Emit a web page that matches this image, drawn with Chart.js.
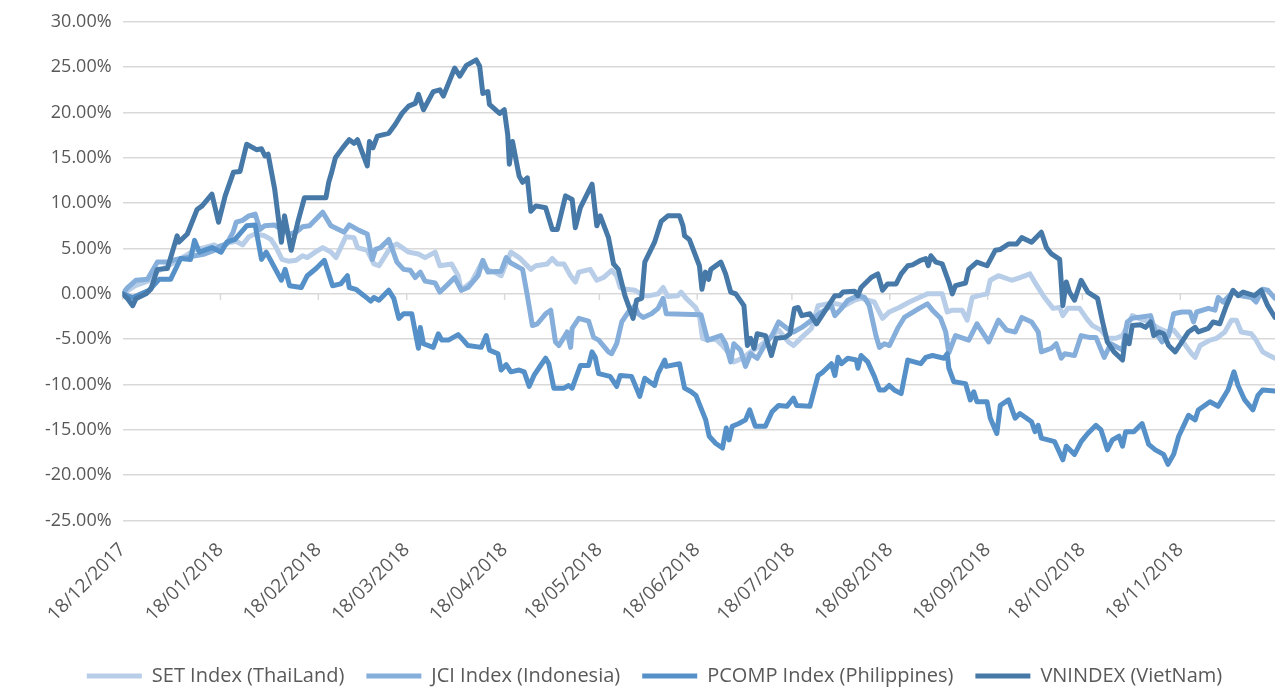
<!DOCTYPE html>
<html>
<head>
<meta charset="utf-8">
<script src="https://cdn.jsdelivr.net/npm/chart.js@4.4.1/dist/chart.umd.min.js"></script>
<style>
  html, body { margin: 0; padding: 0; background: #fff; }
</style>
</head>
<body>
<canvas id="grafica" width="1282" height="691"></canvas>
<script>
// días desde el 18/12/2017
const tickDays = [0, 31, 62, 90, 121, 151, 182, 212, 243, 274, 304, 335];
const tickLabels = ['18/12/2017', '18/01/2018', '18/02/2018', '18/03/2018', '18/04/2018', '18/05/2018',
  '18/06/2018', '18/07/2018', '18/08/2018', '18/09/2018', '18/10/2018', '18/11/2018'];

const seriesNames = ['SET Index (ThaiLand)', 'JCI Index (Indonesia)', 'PCOMP Index (Philippines)', 'VNINDEX (VietNam)'];

const setDays = [0, 4, 8, 11, 14, 17, 20, 23, 26, 29, 31, 33, 36, 38, 40, 42, 45, 47, 48.5, 50.5, 52.5, 55, 57, 58.5,
  61, 63.4, 66, 67.6, 70.7, 73.3, 74.4, 77.5, 79.6, 81.2, 84.8, 86.9, 90.6, 93.7, 95.8, 99, 100.5, 104.2, 106.3, 107.3,
  110.5, 113.6, 115.7, 117.8, 119.9, 121.4, 123, 125.6, 129.3, 130.9, 134.5, 136.1, 137.7, 139.8, 141.9, 143.4, 144.5,
  148.1, 150.2, 152.3, 154.9, 156.5, 157.6, 159.6, 162.3, 164.9, 167, 169.6, 171.2, 172.7, 175.9, 176.9, 178.5, 181.5,
  182.7, 183.7, 185.3, 187.9, 190, 192.1, 193.6, 196.3, 198.9, 202, 205.1, 207.8, 210.9, 212.5, 215.1, 218.2, 220.3,
  223.5, 226.1, 228.7, 231.8, 233.9, 238.1, 240.7, 242.8, 246, 249.2, 252.3, 254.9, 259.6, 261.2, 262.8, 265.9, 267.5,
  269.1, 271.2, 273.8, 274.8, 277.4, 281.6, 284.2, 287.4, 288.9, 291.6, 294.7, 296.8, 297.8, 299.4, 303.1, 305.7, 307.2,
  309.9, 311.9, 314.6, 316.7, 319.8, 321.9, 325, 328.2, 330.8, 332.9, 335, 337.1, 338.6, 339.7, 341.3, 344.4, 346.5,
  349.1, 351.2, 352.8, 354.3, 357.5, 359, 361.1, 363.2, 365];
const setValues = [0, 0.9, 1.4, 2.5, 3.0, 3.6, 4.2, 4.9, 5.1, 5.4, 5.0, 5.6, 5.8, 5.4, 6.3, 6.6, 6.4, 6.0, 5.2, 3.8, 3.6, 3.7, 4.2, 4.0,
  4.6, 5.1, 4.6, 4.0, 6.3, 6.2, 5.1, 4.8, 3.3, 3.1, 5.1, 5.5, 4.6, 4.4, 4.0, 4.6, 3.1, 3.3, 2.0, 0.4,
  1.3, 3.3, 2.6, 2.4, 2.0, 3.3, 4.6, 4.0, 2.7, 3.1, 3.3, 3.9, 3.3, 3.3, 2.0, 1.3, 2.4,
  2.7, 1.5, 1.8, 2.6, 2.0, 0.7, 0.5, 0.4, -0.2, -0.2, 0, 0.7, -0.3, -0.2, 0.2, -0.5, -1.5,
  -2.4, -4.9, -5.1, -5.0, -5.7, -6.6, -7.5, -7.1, -6.4, -5.7, -4.8, -4.0, -5.3, -5.7, -4.8, -3.8, -1.3,
  -1.1, -1.1, -1.3, -0.7, -0.5, -0.9, -2.7, -2.0, -1.5, -0.9, -0.4, 0, 0, -2.0, -1.8, -1.8, -2.9,
  -0.4, -0.2, 0, 1.5, 2.0, 1.5, 1.8, 2.2, 1.3, -0.2, -1.6, -1.5, -2.4, -1.6, -1.6, -2.9, -3.5,
  -4.0, -4.9, -4.9, -4.6, -2.4, -2.7, -3.1, -3.8, -4.2, -4.0, -4.9, -5.9, -6.6, -7.0, -5.7, -5.1, -4.9,
  -4.2, -2.9, -2.9, -4.2, -4.4, -5.1, -6.4, -6.8, -7.1];

const jciDays = [0, 1.6, 4.2, 7.9, 11, 14.2, 17, 20, 23, 26, 29, 31, 33, 35, 36, 38, 40, 42, 43.5, 45, 48, 50, 53, 55, 57,
  59.2, 63.4, 66, 70.2, 71.8, 74.9, 77.5, 79.1, 80.1, 81.7, 84.3, 86.9, 89, 91.1, 92.7, 94.3, 95.8, 99, 100.5, 103.2,
  105.2, 107.3, 109.4, 112.6, 114.1, 115.7, 119.9, 121.5, 123, 126.7, 128.2, 129.8, 131.4, 134, 135.6, 137.1, 138.2,
  139.8, 140.8, 141.9, 142.4, 144.5, 147.6, 149.2, 150.8, 153.9, 154.9, 156.5, 158.1, 160.2, 162.3, 163.3, 164.9, 167.5,
  169.6, 171.2, 172.2, 183.2, 185.3, 189.5, 191, 192.6, 193.6, 195.7, 197.3, 198.9, 201, 203.6, 205.7, 207.8, 210.4,
  212.5, 215.1, 218.2, 221.4, 224.5, 225.6, 227.7, 229.7, 232.9, 235, 236.5, 238.6, 239.7, 241.3, 242.9, 245.5, 247.6,
  252.3, 254.9, 256.5, 259.1, 260.7, 261.7, 263.8, 268, 270.6, 274.3, 277.4, 280, 282.7, 284.8, 287.9, 290, 291, 294.2,
  295.7, 297.3, 298.4, 301.5, 303.6, 306.2, 308.3, 310.9, 313, 316.7, 318.2, 319.8, 325.6, 327.1, 329.2, 331.3, 332.9,
  335.5, 338.1, 339.2, 340.2, 343.9, 346, 347, 348.6, 351.7, 354.3, 357.5, 359, 361.1, 362.7, 365];
const jciValues = [0, 0.7, 1.5, 1.6, 3.5, 3.5, 3.8, 4.0, 4.2, 4.4, 4.8, 5.3, 5.5, 6.8, 7.9, 8.1, 8.6, 8.8, 7.1, 7.5, 7.6, 7.2, 6.6, 6.8, 7.4,
  7.5, 9.0, 7.5, 6.8, 7.6, 7.0, 6.6, 3.8, 4.9, 5.1, 6.0, 3.5, 2.7, 2.6, 1.8, 2.4, 1.4, 1.2, 0.2, 1.1,
  1.8, 0.4, 0.7, 2.0, 3.7, 2.4, 2.5, 4.0, 3.4, 2.7, -0.2, -3.5, -3.3, -2.2, -1.8, -5.3, -5.7,
  -4.8, -4.2, -5.9, -3.8, -2.7, -3.0, -4.8, -5.1, -6.4, -6.6, -5.5, -3.1, -2.0, -1.3, -2.2, -2.6, -2.2,
  -1.6, -0.5, -2.2, -2.3, -5.1, -4.6, -5.5, -7.5, -5.5, -6.2, -8.0, -6.6, -7.1, -5.5, -4.6, -3.1, -3.8,
  -4.2, -3.7, -2.9, -2.0, -1.3, -2.4, -1.6, -0.7, -0.2, -0.4, -1.3, -4.6, -5.9, -5.5, -5.7, -3.8, -2.6,
  -1.6, -1.1, -1.8, -2.7, -4.2, -6.5, -4.6, -5.1, -3.3, -5.3, -2.9, -4.0, -4.2, -2.6, -3.1, -4.2, -6.4, -6.0,
  -5.5, -7.1, -6.6, -6.8, -4.6, -4.8, -4.8, -7.0, -5.5, -6.2, -3.1, -2.7, -2.4, -4.2, -5.3, -4.6, -2.2,
  -2.0, -2.0, -3.1, -2.0, -1.6, -1.8, -0.4, -0.9, 0.2, -0.2, -0.4, -0.9, 0.5, 0.4, -0.5];

const pcompDays = [0, 3.2, 8.4, 11.6, 15.2, 18.4, 21.5, 22.8, 24.3, 28.3, 31.2, 33, 35.6, 39.3, 42, 44, 45.5, 50.3, 51.5,
  52.9, 56.6, 58.5, 61.3, 63.9, 66.5, 69.1, 71.2, 71.8, 73.9, 76.5, 78.6, 79.6, 81.2, 84.3, 85.9, 87.5, 89, 91.6, 92.7,
  93.7, 94.3, 95.3, 98.4, 100, 101.1, 103.2, 106.3, 107.9, 109.4, 113.6, 115.2, 116.2, 118.9, 119.9, 121.5, 123, 125.6,
  127.2, 128.8, 130.3, 132.4, 134, 135, 136.6, 139.8, 141.3, 142.4, 145, 147.6, 148.7, 149.7, 150.8, 154.4, 156.5, 157.6,
  161.2, 163.8, 165.4, 168.5, 169.6, 171.7, 172.2, 176.4, 178, 180.1, 181.6, 183.2, 184.7, 185.8, 187.9, 190, 191.2,
  192.1, 193.1, 195.2, 197.3, 198.6, 200.4, 203.6, 205.7, 207.8, 210.4, 212.5, 213.5, 217.7, 220.3, 221.9, 224.5, 225.6,
  226.6, 227.7, 229.7, 232.4, 232.9, 233.9, 236, 238.1, 239.7, 241.3, 242.8, 244.4, 246.6, 248.7, 252.8, 254.4, 256.5,
  260.2, 261.2, 261.7, 263.3, 267, 268.5, 269.6, 270.6, 273.8, 274.8, 276.9, 278, 280.6, 282.7, 284.2, 287.9, 289, 290,
  291, 295.2, 297.8, 298.9, 301.5, 303.6, 305.7, 308.3, 309.9, 311.9, 313.5, 315.6, 316.7, 317.7, 320.3, 322.9, 325,
  327.1, 329.7, 331.1, 332.9, 334.5, 337.6, 339.7, 340.7, 344.4, 347, 350.1, 352, 353.3, 355.4, 358, 359.6, 361.1, 365];
const pcompValues = [0, -0.4, 0.4, 1.6, 1.6, 3.9, 3.8, 5.9, 4.6, 5.1, 4.6, 5.7, 6.0, 7.5, 7.6, 3.8, 4.6, 1.5, 2.7,
  0.9, 0.7, 2.0, 2.8, 3.7, 0.9, 1.1, 2.0, 0.7, 0.5, -0.2, -0.8, -0.4, -0.7, 0.4, -0.5, -2.7, -2.2, -2.2, -4.2,
  -6.0, -3.7, -5.5, -5.9, -4.4, -5.1, -5.1, -4.5, -5.1, -5.7, -5.9, -4.6, -6.2, -6.6, -8.4, -7.8, -8.6, -8.4,
  -8.6, -10.2, -9.0, -7.9, -7.1, -7.7, -10.4, -10.4, -10.1, -10.4, -7.9, -7.9, -6.4, -7.0, -8.8, -9.1, -10.2, -9.0,
  -9.1, -11.3, -9.3, -10.1, -8.8, -7.3, -8.0, -7.7, -10.4, -10.8, -11.2, -12.6, -13.9, -15.7, -16.5, -17.0, -14.8,
  -16.1, -14.6, -14.3, -13.9, -12.8, -14.6, -14.6, -13.0, -12.3, -12.4, -11.5, -12.3, -12.4, -9.0, -8.6, -7.7, -9.0,
  -7.0, -7.7, -7.1, -7.3, -8.2, -6.8, -7.5, -9.1, -10.6, -10.6, -10.1, -10.6, -11.0, -7.3, -7.7, -7.0, -6.8,
  -7.1, -6.6, -8.2, -9.7, -9.9, -11.7, -10.8, -11.9, -11.9, -13.7, -15.4, -12.3, -11.7, -13.7, -13.2, -14.1, -15.2, -14.5,
  -15.9, -16.3, -18.3, -16.8, -17.7, -16.3, -15.4, -14.5, -15.0, -17.2, -16.1, -15.7, -16.8, -15.2, -15.2, -14.3, -16.6,
  -17.2, -17.7, -18.8, -17.7, -15.7, -13.4, -13.9, -12.8, -11.9, -12.4, -10.6, -8.6, -10.1, -11.7, -12.8, -11.2, -10.6, -10.7];

const vnDays = [0, 1.6, 3.2, 4.2, 7.4, 9, 11, 14.2, 17.3, 17.8, 20.5, 23.6, 25.2, 28.3, 30.4, 32.5, 35.1, 37.2, 39.3,
  42.4, 44, 45.1, 46.1, 48.2, 50.3, 51.3, 53.4, 55.5, 57.6, 64.4, 65.3, 66.3, 67.4, 69.7, 71.8, 73.3, 74.4, 77.5, 78.2,
  79.3, 80.7, 84.3, 86.4, 88.5, 90.6, 92.7, 93.7, 95.3, 98.4, 100.5, 101.6, 105.2, 106.8, 108.9, 112, 113.1, 114.1,
  115.7, 116.2, 119.4, 120.9, 122, 122.5, 123.5, 125.6, 126.7, 128.2, 129.3, 130.9, 134, 136.1, 137.7, 140.3, 142.4,
  143.4, 145, 148.7, 150.2, 151.3, 153.9, 155.5, 157, 159.1, 161.7, 162.8, 164.4, 165.4, 168.5, 170.6, 172.7, 176.4,
  177.5, 178, 179.5, 182.7, 183.5, 184.6, 185.6, 186.3, 189.5, 191, 192.6, 194.2, 196.8, 197.9, 198.9, 200, 201, 203.6,
  205.5, 207, 209.9, 211.4, 212.8, 214, 215.1, 217.7, 219.8, 223, 225.6, 227.1, 228.2, 231.8, 232.9, 233.9, 237.1,
  239.2, 240.7, 242.3, 245, 246.6, 248.7, 250.2, 252.8, 254.4, 255.2, 256, 257.6, 259.6, 261.7, 262.8, 263.8, 267, 268,
  270.6, 273.8, 276.4, 278, 280.6, 283.2, 284.8, 287.9, 291, 292.6, 294.2, 296.8, 297.8, 298.9, 299.9, 301.5, 303.6,
  305.7, 308.8, 310.4, 311.9, 314, 316.7, 317.7, 318.8, 319.8, 322.4, 324, 325.6, 326.6, 328.2, 329.7, 331.3, 333.4,
  335.5, 337.6, 339.7, 340.7, 343.9, 345.4, 347.5, 349.6, 351.7, 353.3, 354.9, 358.5, 360.6, 362.7, 365];
const vnValues = [0, -0.55, -1.3, -0.55, 0, 0.55, 2.7, 2.8, 6.4, 5.7, 6.6, 9.3, 9.7, 11.0, 7.9, 10.8, 13.4, 13.5, 16.5,
  15.9, 16.0, 15.2, 15.4, 11.5, 5.7, 8.6, 4.8, 7.9, 10.6, 10.6, 12.3, 13.5, 15.0, 16.1, 17.0, 16.6, 17.0, 14.1, 16.8,
  16.1, 17.4, 17.7, 18.7, 19.9, 20.7, 21.0, 22.0, 20.3, 22.3, 22.5, 21.8, 24.9, 24.0, 25.2, 25.8, 25.1, 22.1,
  22.3, 20.9, 19.9, 20.3, 17.5, 14.3, 16.8, 13.0, 12.3, 12.8, 9.1, 9.7, 9.5, 7.1, 7.1, 10.8, 10.4,
  7.3, 9.5, 12.1, 7.5, 8.6, 6.2, 3.3, 2.7, -0.2, -2.7, -0.7, -0.5, 3.5, 5.7, 8.0, 8.6, 8.6,
  7.5, 6.4, 6.0, 3.1, 0.5, 2.4, 1.6, 2.7, 3.5, 2.2, 0.2, 0, -1.3, -5.7, -4.9, -6.0, -4.4, -4.6,
  -6.8, -4.9, -4.8, -4.4, -1.6, -1.5, -2.4, -2.2, -3.3, -1.6, -0.2, -0.2, 0.2, 0.3, -0.2, 0.7, 1.8,
  2.2, 0.4, 1.1, 1.1, 2.2, 3.1, 3.2, 3.7, 3.9, 3.1, 4.2, 3.5, 3.3, 1.3, 0, 0.9, 1.2, 2.7,
  3.5, 3.1, 4.8, 4.9, 5.5, 5.5, 6.2, 5.7, 6.8, 5.1, 4.4, 3.8, -1.3, 1.3, 0.2, -0.7, 1.5,
  0.2, -0.5, -3.1, -5.3, -6.4, -7.3, -4.6, -5.5, -3.5, -3.4, -3.7, -3.1, -4.6, -4.2, -4.4, -5.7, -6.4,
  -5.3, -4.2, -3.7, -4.2, -3.8, -3.1, -3.3, -1.3, 0.4, -0.2, 0.2, -0.2, 0.4, -1.3, -2.6];

const colores = ['#b7cde8', '#86aedb', '#5591c8', '#4679a8'];
const fuente = 'Open Sans, Noto Sans, sans-serif';
const gris = '#595959';

const puntos = (dias, valores) => dias.map((d, i) => ({ x: d, y: valores[i] }));
const series = [
  puntos(setDays, setValues),
  puntos(jciDays, jciValues),
  puntos(pcompDays, pcompValues),
  puntos(vnDays, vnValues)
];

// marcas del eje en la línea de 0 %
const marcasCero = {
  id: 'marcasCero',
  beforeDatasetsDraw(chart) {
    const { ctx, scales: { x, y } } = chart;
    const y0 = y.getPixelForValue(0);
    ctx.save();
    ctx.strokeStyle = '#d9d9d9';
    ctx.lineWidth = 1.5;
    tickDays.forEach(d => {
      const px = x.getPixelForValue(d);
      ctx.beginPath();
      ctx.moveTo(px, y0);
      ctx.lineTo(px, y0 + 6);
      ctx.stroke();
    });
    ctx.restore();
  }
};

const ctx = document.getElementById('grafica').getContext('2d');
const myChart = new Chart(ctx, {
  type: 'line',
  data: {
    datasets: series.map((data, i) => ({
      label: seriesNames[i],
      data: data,
      borderColor: colores[i],
      backgroundColor: colores[i],
      borderWidth: 5,
      borderJoinStyle: 'round',
      borderCapStyle: 'round',
      pointRadius: 0,
      tension: 0,
      fill: false,
      order: series.length - i
    }))
  },
  options: {
    responsive: false,
    animation: false,
    devicePixelRatio: 1,
    layout: { padding: { left: 34, right: 7, top: 4, bottom: -5 } },
    plugins: {
      tooltip: { enabled: false },
      legend: {
        position: 'bottom',
        labels: {
          usePointStyle: true,
          pointStyle: 'line',
          pointStyleWidth: 55,
          padding: 22,
          color: gris,
          font: { family: fuente, size: 20 },
          sort: (a, b) => a.datasetIndex - b.datasetIndex
        }
      }
    },
    scales: {
      x: {
        type: 'linear',
        min: 0,
        max: 365,
        grid: { display: false, drawTicks: false },
        border: { display: false },
        afterBuildTicks: scale => { scale.ticks = tickDays.map(v => ({ value: v })); },
        ticks: {
          autoSkip: false,
          minRotation: 45,
          maxRotation: 45,
          padding: 18,
          color: gris,
          font: { family: fuente, size: 19 },
          callback: (v, i) => tickLabels[i]
        }
      },
      y: {
        min: -25,
        max: 30,
        grid: { color: '#d9d9d9', lineWidth: 1.5, drawTicks: false },
        border: { display: false },
        ticks: {
          stepSize: 5,
          padding: 11,
          color: gris,
          font: { family: fuente, size: 18 },
          callback: v => v.toFixed(2) + '%'
        }
      }
    }
  },
  plugins: [marcasCero]
});
</script>
</body>
</html>
